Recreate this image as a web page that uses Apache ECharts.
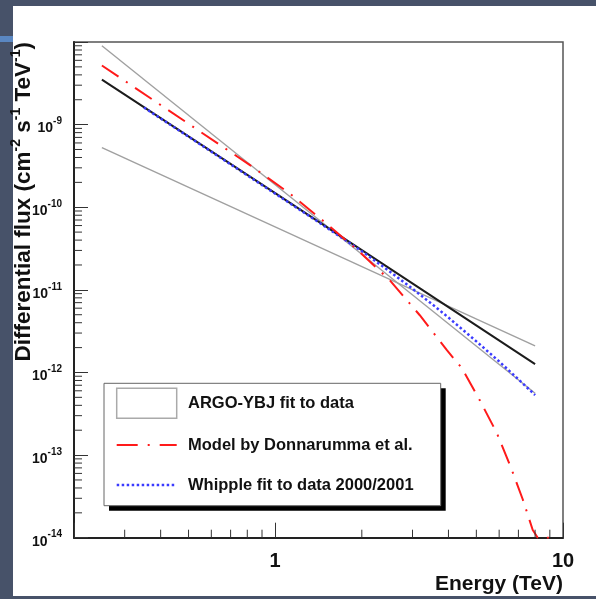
<!DOCTYPE html>
<html>
<head>
<meta charset="utf-8">
<script src="https://cdn.jsdelivr.net/npm/echarts@6/dist/echarts.min.js"></script>
<style>
  html, body { margin: 0; padding: 0; background: #475269; }
  #chart { width: 596px; height: 599px; }
</style>
</head>
<body>
<div id="chart"></div>
<script>
// Energy axis range (TeV) and flux axis range (cm^-2 s^-1 TeV^-1)
const energyRange = [0.2, 10];
const fluxRange = [1e-14, 1e-8];
const energyDecades = [0.1, 1];           // decades that carry 2..9 minor ticks
const fluxDecades = [1e-14, 1e-13, 1e-12, 1e-11, 1e-10, 1e-9];

// ARGO-YBJ fit to data: the two boundary lines of the fit band
const argoSteepEnergy = [0.25, 8];
const argoSteepFlux = [9.0e-9, 5.6e-13];
const argoFlatEnergy = [0.25, 8];
const argoFlatFlux = [5.25e-10, 2.1e-12];

// Best-fit power law (solid black)
const fitEnergy = [0.25, 1, 8];
const fitFlux = [3.5e-9, 1.48e-10, 1.26e-12];

// Model by Donnarumma et al.
const modelEnergy = [0.25, 0.82, 1.125, 1.46, 1.92, 2.5, 3.18, 3.95, 4.45, 5.14, 5.89, 6.58, 7.25, 7.85, 8.17, 9.0];
const modelFlux = [5.2e-9, 3.21e-10, 1.46e-10, 6.95e-11, 3.1e-11, 1.31e-11, 4.93e-12, 1.86e-12, 1.13e-12, 4.6e-13, 1.85e-13, 7.2e-14, 2.9e-14, 1.24e-14, 1e-14, 1e-14];

// Whipple fit to data 2000/2001
const whippleEnergy = [0.35, 0.5, 0.7, 1, 1.4, 2, 2.5, 3, 3.5, 4, 5, 6, 7, 8];
const whippleFlux = [1.61e-9, 7.14e-10, 3.3e-10, 1.46e-10, 6.76e-11, 2.93e-11, 1.67e-11, 1.03e-11, 6.76e-12, 4.62e-12, 2.38e-12, 1.36e-12, 8.26e-13, 5.32e-13];

const legendLabels = ['ARGO-YBJ fit to data', 'Model by Donnarumma et al.', 'Whipple fit to data 2000/2001'];

const pairs = (xs, ys) => xs.map((x, i) => [x, ys[i]]);

// minor tick positions: 2..9 times each decade, kept inside the axis range
function minorTicks(decades, range) {
  const out = [];
  decades.forEach(d => {
    for (let m = 2; m <= 9; m++) {
      const v = d * m;
      if (v > range[0] * 1.0001 && v < range[1] * 0.9999) out.push(v);
    }
  });
  return out;
}
const xMinor = minorTicks(energyDecades, energyRange);
const yMinor = minorTicks(fluxDecades, fluxRange);

const isDecade = v => Math.abs(Math.log10(v) - Math.round(Math.log10(v))) < 1e-6;
const FONT = '"Liberation Sans", Arial, Helvetica, sans-serif';

const chart = echarts.init(document.getElementById('chart'), null, { renderer: 'canvas' });

const option = {
  backgroundColor: '#475269',
  animation: false,
  grid: {
    left: 74, right: 33, top: 42, bottom: 61.3,
    containLabel: false, outerBoundsMode: 'none',
    show: true, borderColor: '#555', borderWidth: 1.5, backgroundColor: 'transparent'
  },
  xAxis: {
    type: 'log', logBase: 10, min: energyRange[0], max: energyRange[1],
    axisLine: { show: true, lineStyle: { color: '#222', width: 2 } },
    axisTick: { show: true, inside: true, length: 15, lineStyle: { color: '#333', width: 1 } },
    splitLine: { show: false },
    minorTick: { show: false },
    axisLabel: {
      margin: 14, color: '#111', fontFamily: FONT, fontWeight: 'bold', fontSize: 20,
      showMinLabel: true, showMaxLabel: true,
      formatter: v => isDecade(v) ? String(Math.round(v)) : ''
    }
  },
  yAxis: {
    type: 'log', logBase: 10, min: fluxRange[0], max: fluxRange[1], interval: 1,
    axisLine: { show: true, lineStyle: { color: '#222', width: 2 } },
    axisTick: { show: true, inside: true, length: 14, lineStyle: { color: '#333', width: 1 } },
    splitLine: { show: false },
    minorTick: { show: false },
    axisLabel: {
      margin: 12, color: '#111', fontFamily: FONT,
      padding: [8, 0, 0, 0],
      formatter: v => {
        if (!isDecade(v)) return '';
        const e = Math.round(Math.log10(v));
        if (e >= -8) return '';
        return '{b|10}{s|' + e + '}';
      },
      rich: {
        b: { fontSize: 14, fontWeight: 'bold', fontFamily: FONT, color: '#111', lineHeight: 24 },
        s: { fontSize: 10, fontWeight: 'bold', fontFamily: FONT, color: '#111', lineHeight: 10, verticalAlign: 'top' }
      }
    }
  },
  series: [
    {
      type: 'line', name: legendLabels[0], data: pairs(argoSteepEnergy, argoSteepFlux),
      showSymbol: false, lineStyle: { color: '#a0a0a0', width: 1.4 }, z: 3
    },
    {
      type: 'line', name: legendLabels[0] + ' ', data: pairs(argoFlatEnergy, argoFlatFlux),
      showSymbol: false, lineStyle: { color: '#a0a0a0', width: 1.4 }, z: 3
    },
    {
      type: 'line', name: 'fit', data: pairs(fitEnergy, fitFlux),
      showSymbol: false, lineStyle: { color: '#1c1c1c', width: 2 }, z: 4
    },
    {
      type: 'line', name: legendLabels[2], data: pairs(whippleEnergy, whippleFlux),
      showSymbol: false,
      lineStyle: { color: '#3b3bff', width: 2.5, type: [2.5, 2.5] }, z: 5
    },
    {
      type: 'line', name: legendLabels[1], data: pairs(modelEnergy, modelFlux),
      showSymbol: false,
      lineStyle: { color: '#ff1a1a', width: 2, type: [20, 9, 2, 9] }, z: 6
    },
    {
      // minor ticks on the flux axis
      type: 'custom', silent: true, z: 7,
      data: yMinor.map(v => [energyRange[0], v]),
      renderItem: (params, api) => {
        const p = api.coord([api.value(0), api.value(1)]);
        return { type: 'line', shape: { x1: p[0], y1: p[1], x2: p[0] + 8, y2: p[1] },
                 style: { stroke: '#333', lineWidth: 1 } };
      }
    },
    {
      // minor ticks on the energy axis
      type: 'custom', silent: true, z: 7,
      data: xMinor.map(v => [v, fluxRange[0]]),
      renderItem: (params, api) => {
        const p = api.coord([api.value(0), api.value(1)]);
        return { type: 'line', shape: { x1: p[0], y1: p[1], x2: p[0], y2: p[1] - 8 },
                 style: { stroke: '#333', lineWidth: 1 } };
      }
    }
  ],
  graphic: {
    elements: [
      // page panel
      { type: 'rect', z: -100, shape: { x: 13, y: 6, width: 583, height: 590 }, style: { fill: '#ffffff' } },
      { type: 'rect', z: -100, shape: { x: 0, y: 36, width: 13, height: 6 }, style: { fill: '#5a87c2' } },
      // axis titles
      {
        type: 'text', z: 50, x: 24, y: 42, rotation: Math.PI / 2,
        style: {
          text: '{n|Differential flux (cm}{s|-2}{n| s}{s|-1}{n| TeV}{s|-1}{n|)}',
          align: 'right', verticalAlign: 'middle',
          rich: {
            n: { fontSize: 22.5, fontWeight: 'bold', fontFamily: FONT, fill: '#111', lineHeight: 30 },
            s: { fontSize: 14, fontWeight: 'bold', fontFamily: FONT, fill: '#111', lineHeight: 14, verticalAlign: 'top' }
          }
        }
      },
      {
        type: 'text', z: 50, x: 563, y: 584,
        style: { text: 'Energy (TeV)', align: 'right', verticalAlign: 'middle',
                 font: 'bold 21px ' + FONT, fill: '#111' }
      },
      // legend box with drop shadow
      { type: 'rect', z: 60, shape: { x: 109, y: 388.3, width: 336.7, height: 122.4 }, style: { fill: '#000' } },
      { type: 'rect', z: 61, shape: { x: 104, y: 383.3, width: 336.7, height: 122.4 },
        style: { fill: '#fff', stroke: '#666', lineWidth: 1 } },
      { type: 'rect', z: 62, shape: { x: 116.7, y: 388.3, width: 60, height: 30 },
        style: { fill: '#fff', stroke: '#aaa', lineWidth: 1.5 } },
      { type: 'line', z: 62, shape: { x1: 116.7, y1: 445, x2: 176.7, y2: 445 },
        style: { stroke: '#ff1a1a', lineWidth: 2, lineDash: [21, 10, 2, 10] } },
      { type: 'line', z: 62, shape: { x1: 116.7, y1: 485, x2: 176.7, y2: 485 },
        style: { stroke: '#3b3bff', lineWidth: 2.5, lineDash: [2.5, 2.5] } },
      { type: 'text', z: 62, x: 188, y: 403.5,
        style: { text: legendLabels[0], verticalAlign: 'middle', font: 'bold 16.5px ' + FONT, fill: '#111' } },
      { type: 'text', z: 62, x: 188, y: 445,
        style: { text: legendLabels[1], verticalAlign: 'middle', font: 'bold 16.5px ' + FONT, fill: '#111' } },
      { type: 'text', z: 62, x: 188, y: 485,
        style: { text: legendLabels[2], verticalAlign: 'middle', font: 'bold 16.5px ' + FONT, fill: '#111' } }
    ]
  }
};

chart.setOption(option);
</script>
</body>
</html>
